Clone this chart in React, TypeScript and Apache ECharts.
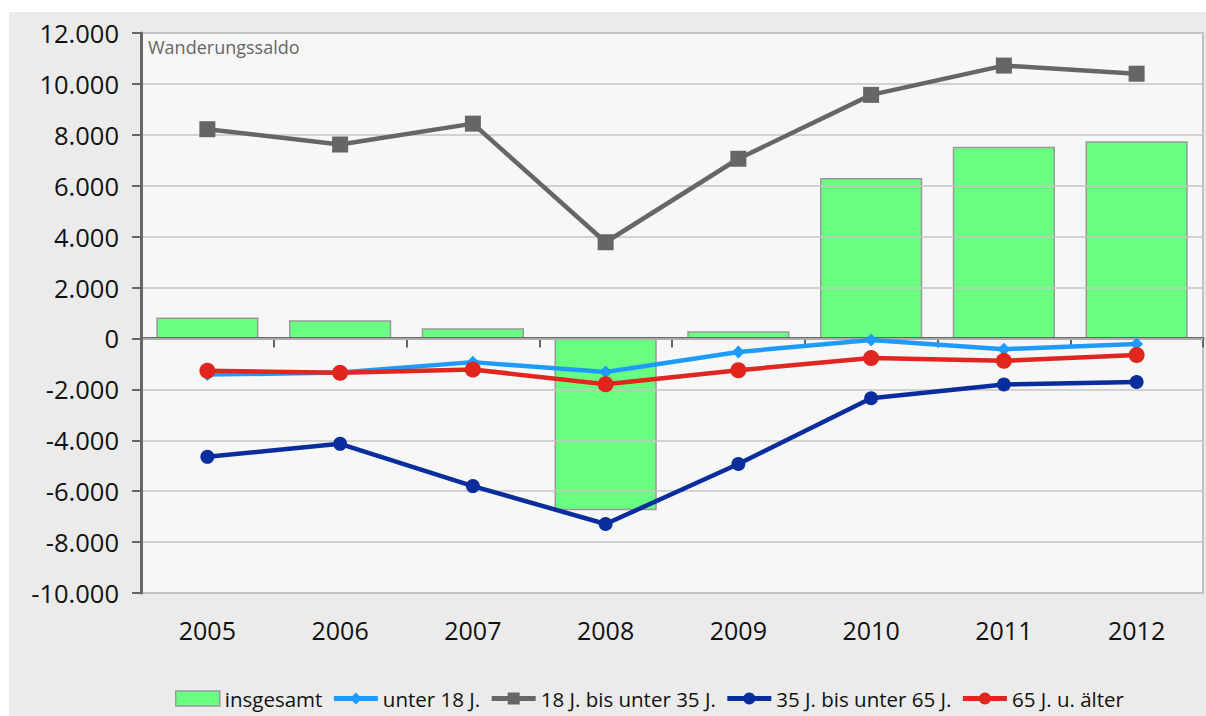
import React, { useEffect, useRef } from "react";
import * as echarts from "echarts";

const years = ["2005", "2006", "2007", "2008", "2009", "2010", "2011", "2012"];
const insgesamt = [820, 720, 400, -6750, 280, 6300, 7530, 7750];
const unter18 = [-1420, -1340, -930, -1320, -530, -60, -420, -220];
const j18bis35 = [8220, 7620, 8440, 3780, 7060, 9570, 10720, 10400];
const j35bis65 = [-4650, -4140, -5800, -7290, -4930, -2350, -1810, -1710];
const j65plus = [-1270, -1350, -1220, -1800, -1250, -770, -880, -650];

const yMin = -10000;
const yMax = 12000;
const yInterval = 2000;

const FONT = "'Open Sans', 'DejaVu Sans', sans-serif";

function fmt(v: number): string {
  const s = Math.abs(v).toString().replace(/\B(?=(\d{3})+(?!\d))/g, ".");
  return (v < 0 ? "-" : "") + s;
}

export default function App() {
  const ref = useRef<HTMLDivElement>(null);
  useEffect(() => {
    if (!ref.current) return;
    const chart = echarts.init(ref.current, undefined, { renderer: "svg" });
    const lineSeries = (name: string, data: number[], color: string, symbol: string, size: number) => ({
      name,
      type: "line",
      data,
      xAxisIndex: 0,
      yAxisIndex: 0,
      symbol,
      symbolSize: size,
      lineStyle: { color, width: 4.5 },
      itemStyle: { color },
      z: 3,
    });
    const legLine = (name: string) => ({ name, lineStyle: { width: 5 } });
    chart.setOption({
      animation: false,
      backgroundColor: "#ebebeb",
      textStyle: { fontFamily: FONT },
      grid: {
        left: 132,
        top: 21,
        right: 3,
        bottom: 123,
        show: true,
        backgroundColor: "#f7f7f7",
        borderColor: "#c2c2c2",
        borderWidth: 2,
      },
      legend: {
        left: 161,
        top: 671,
        itemWidth: 44,
        itemHeight: 15,
        itemGap: 9,
        textStyle: { fontFamily: FONT, fontSize: 20.5, color: "#111" },
        data: [
          { name: "insgesamt", icon: "rect", itemStyle: { color: "#69ff80", borderColor: "#999", borderWidth: 1.5 } },
          legLine("unter 18 J."),
          legLine("18 J. bis unter 35 J."),
          legLine("35 J. bis unter 65 J."),
          legLine("65 J. u. älter"),
        ],
      },
      xAxis: [
        {
          type: "category",
          data: years,
          boundaryGap: true,
          axisLine: { onZero: true, lineStyle: { color: "#666", width: 3 } },
          axisTick: { show: true, interval: 0, length: 9, lineStyle: { color: "#666", width: 2 } },
          axisLabel: { show: false },
          splitLine: { show: false },
          z: 2,
        },
        {
          type: "category",
          data: years,
          position: "bottom",
          boundaryGap: true,
          axisLine: { show: false, onZero: false },
          axisTick: { show: false },
          axisLabel: { show: true, interval: 0, margin: 24, fontFamily: FONT, fontSize: 25, color: "#111" },
          splitLine: { show: false },
        },
      ],
      yAxis: {
        type: "value",
        min: yMin,
        max: yMax,
        interval: yInterval,
        axisLine: { show: true, lineStyle: { color: "#666", width: 3 } },
        axisTick: { show: true, length: 9, lineStyle: { color: "#666", width: 2 } },
        axisLabel: { margin: 22, fontFamily: FONT, fontSize: 25.5, color: "#111", formatter: (v: number) => fmt(v) },
        splitLine: { show: true, lineStyle: { color: "#c4c4c4", width: 1.5 } },
        z: 3,
      },
      graphic: [
        {
          type: "text",
          x: 139,
          y: 35,
          z: 10,
          style: { text: "Wanderungssaldo", fontFamily: FONT, fontSize: 18, fill: "#666", verticalAlign: "middle" },
        },
      ],
      series: [
        {
          name: "insgesamt",
          type: "bar",
          data: insgesamt,
          xAxisIndex: 0,
          yAxisIndex: 0,
          barWidth: "77%",
          itemStyle: { color: "#69ff80", borderColor: "#999", borderWidth: 1.5 },
          z: 1,
        },
        lineSeries("unter 18 J.", unter18, "#1e9bff", "diamond", 13),
        lineSeries("18 J. bis unter 35 J.", j18bis35, "#666666", "rect", 16),
        lineSeries("35 J. bis unter 65 J.", j35bis65, "#0a2d9e", "circle", 14),
        lineSeries("65 J. u. älter", j65plus, "#e0261f", "circle", 16),
      ],
    });
    return () => chart.dispose();
  }, []);
  return (
    <div
      ref={ref}
      style={{ position: "absolute", left: 9, top: 12, width: 1197, height: 704 }}
    />
  );
}
